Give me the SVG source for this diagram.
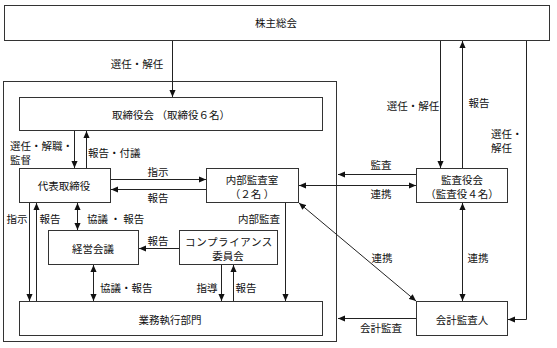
<svg xmlns="http://www.w3.org/2000/svg" width="557" height="348" viewBox="0 0 557 348">
<defs>
<marker id="ah" viewBox="0 0 8 8" refX="8" refY="4" markerWidth="7" markerHeight="7" markerUnits="userSpaceOnUse" orient="auto-start-reverse">
<path d="M0,0.5 L8,4 L0,7.5 Z" fill="#111"/>
</marker>
<style>
.box{fill:#fff;stroke:#333;stroke-width:1}
.grp{fill:none;stroke:#333;stroke-width:1}
.t{font-family:"Noto Sans CJK JP","Noto Sans CJK SC",sans-serif;font-size:10.5px;fill:#111;dominant-baseline:central}
.c{text-anchor:middle}
.ln{fill:none;stroke:#222;stroke-width:1}
.a{marker-end:url(#ah)}
.d{marker-start:url(#ah);marker-end:url(#ah)}
</style>
</defs>
<rect width="557" height="348" fill="#fff"/>
<rect class="grp" x="3.5" y="81.5" width="333" height="260"/>

<g id="kabunushi"><rect class="box" x="4.5" y="5.5" width="545" height="35"/><text class="t c" x="276" y="22">株主総会</text></g>
<g id="torishimariyakukai"><rect class="box" x="19.5" y="97.5" width="303" height="33"/><text class="t c" x="171" y="114">取締役会 （取締役６名）</text></g>
<g id="daihyo"><rect class="box" x="19.5" y="168.5" width="91" height="34"/><text class="t c" x="64" y="185">代表取締役</text></g>
<g id="naibu"><rect class="box" x="206.5" y="168.5" width="92" height="34"/><text class="t c" x="252" y="179">内部監査室</text><text class="t c" x="252" y="193">（２名 ）</text></g>
<g id="kansayakukai"><rect class="box" x="416.5" y="168.5" width="91" height="34"/><text class="t c" x="462" y="179">監査役会</text><text class="t c" x="462" y="193">（監査役４名）</text></g>
<g id="keiei"><rect class="box" x="48.5" y="230.5" width="90" height="34"/><text class="t c" x="93" y="248">経営会議</text></g>
<g id="compliance"><rect class="box" x="179.5" y="230.5" width="98" height="34"/><text class="t c" x="229" y="241" style="letter-spacing:0.6px">コンプライアンス</text><text class="t c" x="228" y="255">委員会</text></g>
<g id="gyomu"><rect class="box" x="19.5" y="301.5" width="303" height="34"/><text class="t c" x="170" y="319">業務執行部門</text></g>
<g id="kaikei"><rect class="box" x="416.5" y="301.5" width="91" height="34"/><text class="t c" x="462" y="319">会計監査人</text></g>

<g id="connectors">
<line class="ln a" x1="172.5" y1="41" x2="172.5" y2="97"/>
<line class="ln a" x1="74.5" y1="131" x2="74.5" y2="168"/>
<line class="ln a" x1="86.5" y1="168" x2="86.5" y2="131"/>
<line class="ln a" x1="111" y1="179.5" x2="206" y2="179.5"/>
<line class="ln a" x1="206" y1="189.5" x2="111" y2="189.5"/>
<line class="ln a" x1="416" y1="174.5" x2="338" y2="174.5"/>
<line class="ln d" x1="299" y1="185.5" x2="416" y2="185.5"/>
<line class="ln a" x1="440.5" y1="41" x2="440.5" y2="168"/>
<line class="ln a" x1="462.5" y1="168" x2="462.5" y2="41"/>
<path class="ln a" d="M526.5,41 V319.5 H508"/>
<line class="ln d" x1="462.5" y1="203" x2="462.5" y2="301"/>
<line class="ln d" x1="299" y1="203" x2="416" y2="301"/>
<line class="ln a" x1="416" y1="318.5" x2="338" y2="318.5"/>
<line class="ln a" x1="29.5" y1="203" x2="29.5" y2="301"/>
<line class="ln a" x1="36.5" y1="301" x2="36.5" y2="203"/>
<line class="ln d" x1="77.5" y1="203" x2="77.5" y2="230"/>
<line class="ln d" x1="93.5" y1="265" x2="93.5" y2="301"/>
<line class="ln a" x1="179" y1="248.5" x2="139" y2="248.5"/>
<line class="ln a" x1="221.5" y1="265" x2="221.5" y2="301"/>
<line class="ln a" x1="233.5" y1="301" x2="233.5" y2="265"/>
<line class="ln a" x1="285.5" y1="203" x2="285.5" y2="301"/>
</g>

<g id="labels">
<text class="t c" x="137" y="63">選任・解任</text>
<text class="t" x="10" y="145">選任・解職・</text>
<text class="t" x="10" y="159">監督</text>
<text class="t" x="88" y="152">報告・付議</text>
<text class="t c" x="158" y="171">指示</text>
<text class="t c" x="158" y="197">報告</text>
<text class="t c" x="381" y="164">監査</text>
<text class="t c" x="381" y="193">連携</text>
<text class="t c" x="413" y="105">選任・解任</text>
<text class="t c" x="479" y="102">報告</text>
<text class="t" x="491" y="133">選任・</text>
<text class="t" x="491" y="147">解任</text>
<text class="t c" x="382" y="257">連携</text>
<text class="t c" x="478" y="257">連携</text>
<text class="t c" x="381" y="327">会計監査</text>
<text class="t c" x="17" y="218">指示</text>
<text class="t c" x="50" y="218">報告</text>
<text class="t" x="87" y="218">協議 ・ 報告</text>
<text class="t c" x="259" y="218">内部監査</text>
<text class="t c" x="158" y="240">報告</text>
<text class="t" x="100" y="287">協議・報告</text>
<text class="t c" x="207" y="287">指導</text>
<text class="t c" x="246" y="287">報告</text>
</g>
</svg>
